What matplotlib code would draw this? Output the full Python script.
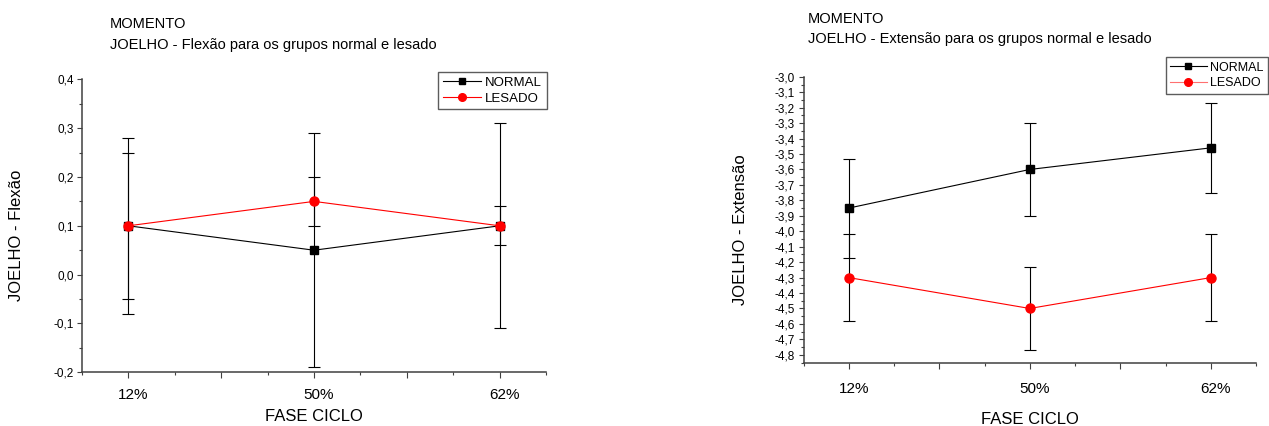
import matplotlib
matplotlib.use("Agg")
import matplotlib.pyplot as plt
import matplotlib.transforms as mtransforms
from matplotlib.lines import Line2D
from matplotlib.ticker import MultipleLocator, FixedLocator, FuncFormatter

plt.rcParams['font.family'] = ['Liberation Sans', 'DejaVu Sans']

# data
fases = ["12%", "50%", "62%"]
posicoes = [1, 2, 3]

flexao_normal = [0.10, 0.05, 0.10]
flexao_normal_err = [0.15, 0.24, 0.21]
flexao_lesado = [0.10, 0.15, 0.10]
flexao_lesado_err = [0.18, 0.05, 0.04]

extensao_normal = [-3.85, -3.60, -3.46]
extensao_normal_err = [0.32, 0.30, 0.29]
extensao_lesado = [-4.30, -4.50, -4.30]
extensao_lesado_err = [0.28, 0.27, 0.28]

W, H = 1269, 426
AXIS_COLOR = "#404040"


def virgula(v, pos):
    return f"{round(v, 1) + 0:.1f}".replace('.', ',')


def style_axes(ax, x_pad):

    # only left and bottom axis lines
    ax.spines['top'].set_visible(False)
    ax.spines['right'].set_visible(False)
    for side in ['left', 'bottom']:
        ax.spines[side].set_color(AXIS_COLOR)
        ax.spines[side].set_linewidth(1.1)

    ax.set_xlim(0.75, 3.25)
    ax.xaxis.set_major_locator(FixedLocator([1, 1.5, 2, 2.5, 3]))
    ax.xaxis.set_minor_locator(FixedLocator([0.75, 1.25, 1.75, 2.25, 2.75, 3.25]))
    ax.set_xticklabels([fases[0], "", fases[1], "", fases[2]])
    ax.tick_params(axis='x', which='major', length=4.3, width=0.8, color=AXIS_COLOR,
                   labelsize=11, pad=x_pad)
    ax.tick_params(axis='x', which='minor', length=2, width=0.8, color=AXIS_COLOR)

    ax.yaxis.set_major_formatter(FuncFormatter(virgula))
    ax.tick_params(axis='y', which='major', length=3.6, width=0.8, color=AXIS_COLOR,
                   labelsize=8.5, pad=2.5)
    ax.tick_params(axis='y', which='minor', length=2, width=0.8, color=AXIS_COLOR)

    # shift the category labels a bit to the right
    offset = mtransforms.ScaledTranslation(5 / 100, 0, ax.figure.dpi_scale_trans)
    for label in ax.get_xticklabels():
        label.set_transform(label.get_transform() + offset)


def plot_series(ax, y_n, e_n, y_l, e_l):

    ax.errorbar(posicoes, y_n, yerr=e_n, color='black', lw=0.8, marker='s', ms=6,
                mfc='black', mec='black', ecolor='black', elinewidth=0.8,
                capsize=4, capthick=0.8, zorder=3)
    ax.errorbar(posicoes, y_l, yerr=e_l, color='#ff0000', lw=0.8, marker='o', ms=6.5,
                mfc='#ff0000', mec='#ff0000', ecolor='black', elinewidth=0.8,
                capsize=4, capthick=0.8, zorder=4)


def add_legend(ax, fig, right_px, top_px, lesado_line, size):

    handles = [
        Line2D([], [], color='black', lw=0.8, marker='s', ms=5, mfc='black', mec='black'),
        Line2D([], [], color=lesado_line, lw=0.8, marker='o', ms=5.5, mfc='#ff0000', mec='#ff0000'),
    ]
    leg = ax.legend(handles, ["NORMAL", "LESADO"], loc='upper right',
                    bbox_to_anchor=(right_px / W, 1 - top_px / H),
                    bbox_transform=fig.transFigure, borderaxespad=0,
                    fontsize=size, frameon=True, fancybox=False, numpoints=1,
                    handlelength=2.9, handletextpad=0.3, labelspacing=0.3,
                    borderpad=0.35)
    leg.get_frame().set_edgecolor('#333333')
    leg.get_frame().set_linewidth(1.0)


def add_title(fig, x_px, base1, base2, segundo):

    fig.text(x_px / W, 1 - base1 / H, "MOMENTO", fontsize=10.5, va='baseline', ha='left')
    fig.text(x_px / W, 1 - base2 / H, segundo, fontsize=10.5, va='baseline', ha='left')


fig = plt.figure(figsize=(W / 100, H / 100), dpi=100)

# left chart - flexao
ax1 = fig.add_axes([82 / W, (H - 372.3) / H, (546 - 82) / W, (372.3 - 79.3) / H])
plot_series(ax1, flexao_normal, flexao_normal_err, flexao_lesado, flexao_lesado_err)
ax1.set_ylim(-0.2, 0.4)
ax1.yaxis.set_major_locator(MultipleLocator(0.1))
ax1.yaxis.set_minor_locator(MultipleLocator(0.05))
style_axes(ax1, 7)
ax1.set_xlabel("FASE CICLO", fontsize=12, va='top')
ax1.xaxis.set_label_coords(0.5, -0.125)
ax1.set_ylabel("JOELHO - Flexão", fontsize=12, va='center')
ax1.yaxis.set_label_coords(-0.142, 0.469)
add_legend(ax1, fig, 546.7, 71.7, '#ff0000', 9.5)
add_title(fig, 110, 28.3, 49.3, "JOELHO - Flexão para os grupos normal e lesado")

# right chart - extensao
ax2 = fig.add_axes([803.5 / W, (H - 363.3) / H, (1256 - 803.5) / W, (363.3 - 76.5) / H])
plot_series(ax2, extensao_normal, extensao_normal_err, extensao_lesado, extensao_lesado_err)
ax2.set_ylim(-4.855, -2.998)
ax2.yaxis.set_major_locator(MultipleLocator(0.1))
ax2.yaxis.set_minor_locator(MultipleLocator(0.05))
style_axes(ax2, 9)
ax2.set_xlabel("FASE CICLO", fontsize=12, va='top')
ax2.xaxis.set_label_coords(0.5, -0.170)
ax2.set_ylabel("JOELHO - Extensão", fontsize=12, va='center')
ax2.yaxis.set_label_coords(-0.139, 0.466)
add_legend(ax2, fig, 1268, 57.3, '#ff7070', 9)
add_title(fig, 807.7, 22.7, 43.3, "JOELHO - Extensão para os grupos normal e lesado")

fig.savefig("out.png", dpi=100)
